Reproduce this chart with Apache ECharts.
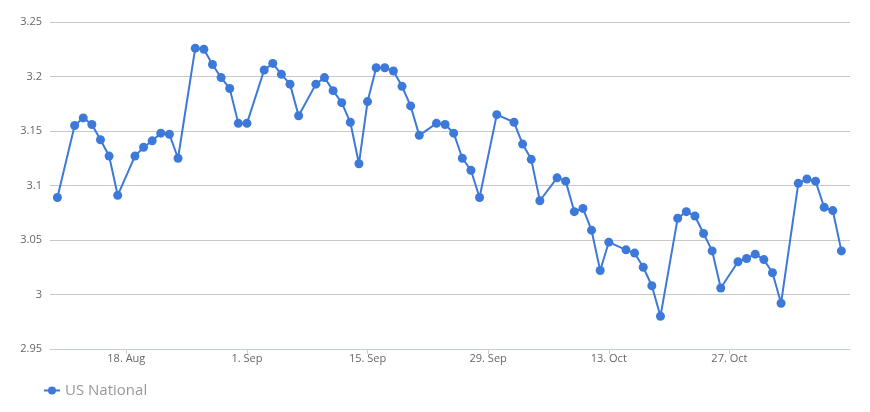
<!DOCTYPE html>
<html>
<head>
<meta charset="utf-8">
<script src="https://cdn.jsdelivr.net/npm/echarts@6/dist/echarts.min.js"></script>
<style>
html,body{margin:0;padding:0;background:#fff;}
#chart{width:870px;height:412px;}
</style>
</head>
<body>
<div id="chart"></div>
<script>
var seriesName = 'US National';
var dates = [
  '2014-08-10','2014-08-12','2014-08-13','2014-08-14','2014-08-15','2014-08-16','2014-08-17',
  '2014-08-19','2014-08-20','2014-08-21','2014-08-22','2014-08-23','2014-08-24',
  '2014-08-26','2014-08-27','2014-08-28','2014-08-29','2014-08-30','2014-08-31','2014-09-01',
  '2014-09-03','2014-09-04','2014-09-05','2014-09-06','2014-09-07',
  '2014-09-09','2014-09-10','2014-09-11','2014-09-12','2014-09-13','2014-09-14','2014-09-15',
  '2014-09-16','2014-09-17','2014-09-18','2014-09-19','2014-09-20','2014-09-21',
  '2014-09-23','2014-09-24','2014-09-25','2014-09-26','2014-09-27','2014-09-28',
  '2014-09-30','2014-10-02','2014-10-03','2014-10-04','2014-10-05',
  '2014-10-07','2014-10-08','2014-10-09','2014-10-10','2014-10-11','2014-10-12','2014-10-13',
  '2014-10-15','2014-10-16','2014-10-17','2014-10-18','2014-10-19',
  '2014-10-21','2014-10-22','2014-10-23','2014-10-24','2014-10-25','2014-10-26',
  '2014-10-28','2014-10-29','2014-10-30','2014-10-31','2014-11-01','2014-11-02',
  '2014-11-04','2014-11-05','2014-11-06','2014-11-07','2014-11-08','2014-11-09'
];
var values = [
  3.089,3.155,3.162,3.156,3.142,3.127,3.091,
  3.127,3.135,3.141,3.148,3.147,3.125,
  3.226,3.225,3.211,3.199,3.189,3.157,3.157,
  3.206,3.212,3.202,3.193,3.164,
  3.193,3.199,3.187,3.176,3.158,3.120,3.177,
  3.208,3.208,3.205,3.191,3.173,3.146,
  3.157,3.156,3.148,3.125,3.114,3.089,
  3.165,3.158,3.138,3.124,3.086,
  3.107,3.104,3.076,3.079,3.059,3.022,3.048,
  3.041,3.038,3.025,3.008,2.980,
  3.070,3.076,3.072,3.056,3.040,3.006,
  3.030,3.033,3.037,3.032,3.020,2.992,
  3.102,3.106,3.104,3.080,3.077,3.040
];
var tickDates = ['2014-08-18','2014-09-01','2014-09-15','2014-09-29','2014-10-13','2014-10-27'];
var monthNames = ['Jan','Feb','Mar','Apr','May','Jun','Jul','Aug','Sep','Oct','Nov','Dec'];

function ts(s){ var p = s.split('-'); return Date.UTC(+p[0], +p[1]-1, +p[2]); }
var DAY = 86400000;
var tickTs = tickDates.map(ts);
var seriesData = dates.map(function(d,i){ return [ts(d), values[i]]; });
var xMin = ts('2014-08-18') - 8.86*DAY;
var xMax = ts('2014-08-18') + 84.0*DAY;

var chart = echarts.init(document.getElementById('chart'), null, {renderer:'canvas'});
chart.setOption({
  animation:false,
  backgroundColor:'#ffffff',
  textStyle:{fontFamily:'"Open Sans", sans-serif'},
  grid:{left:50,right:20,top:22,bottom:63,containLabel:false},
  legend:{
    left:38, top:378,
    itemWidth:16, itemHeight:10, itemGap:5,
    textStyle:{color:'#999999', fontSize:15, fontFamily:'"Open Sans", sans-serif'},
    data:[seriesName]
  },
  xAxis:{
    type:'value',
    min:xMin, max:xMax,
    axisLine:{show:true, lineStyle:{color:'#C0D0E0', width:1}},
    axisTick:{show:true, customValues:tickTs, length:5, lineStyle:{color:'#C0D0E0'}},
    axisLabel:{
      customValues:tickTs,
      color:'#666666', fontSize:11, margin:4,
      fontFamily:'"Open Sans", sans-serif',
      formatter:function(v){ var d=new Date(v); return d.getUTCDate()+'. '+monthNames[d.getUTCMonth()]; }
    },
    splitLine:{show:false}
  },
  yAxis:{
    type:'value',
    min:2.95, max:3.25, interval:0.05,
    axisLine:{show:false},
    axisTick:{show:false},
    axisLabel:{color:'#666666', fontSize:11, margin:8, fontFamily:'"Open Sans", sans-serif'},
    splitLine:{lineStyle:{color:'#C8C8C8', width:1}}
  },
  series:[{
    name:seriesName,
    type:'line',
    data:seriesData,
    symbol:'circle',
    symbolSize:9,
    showAllSymbol:true,
    lineStyle:{color:'#3D79D9', width:2},
    itemStyle:{color:'#3D79D9'}
  }]
});
</script>
</body>
</html>
